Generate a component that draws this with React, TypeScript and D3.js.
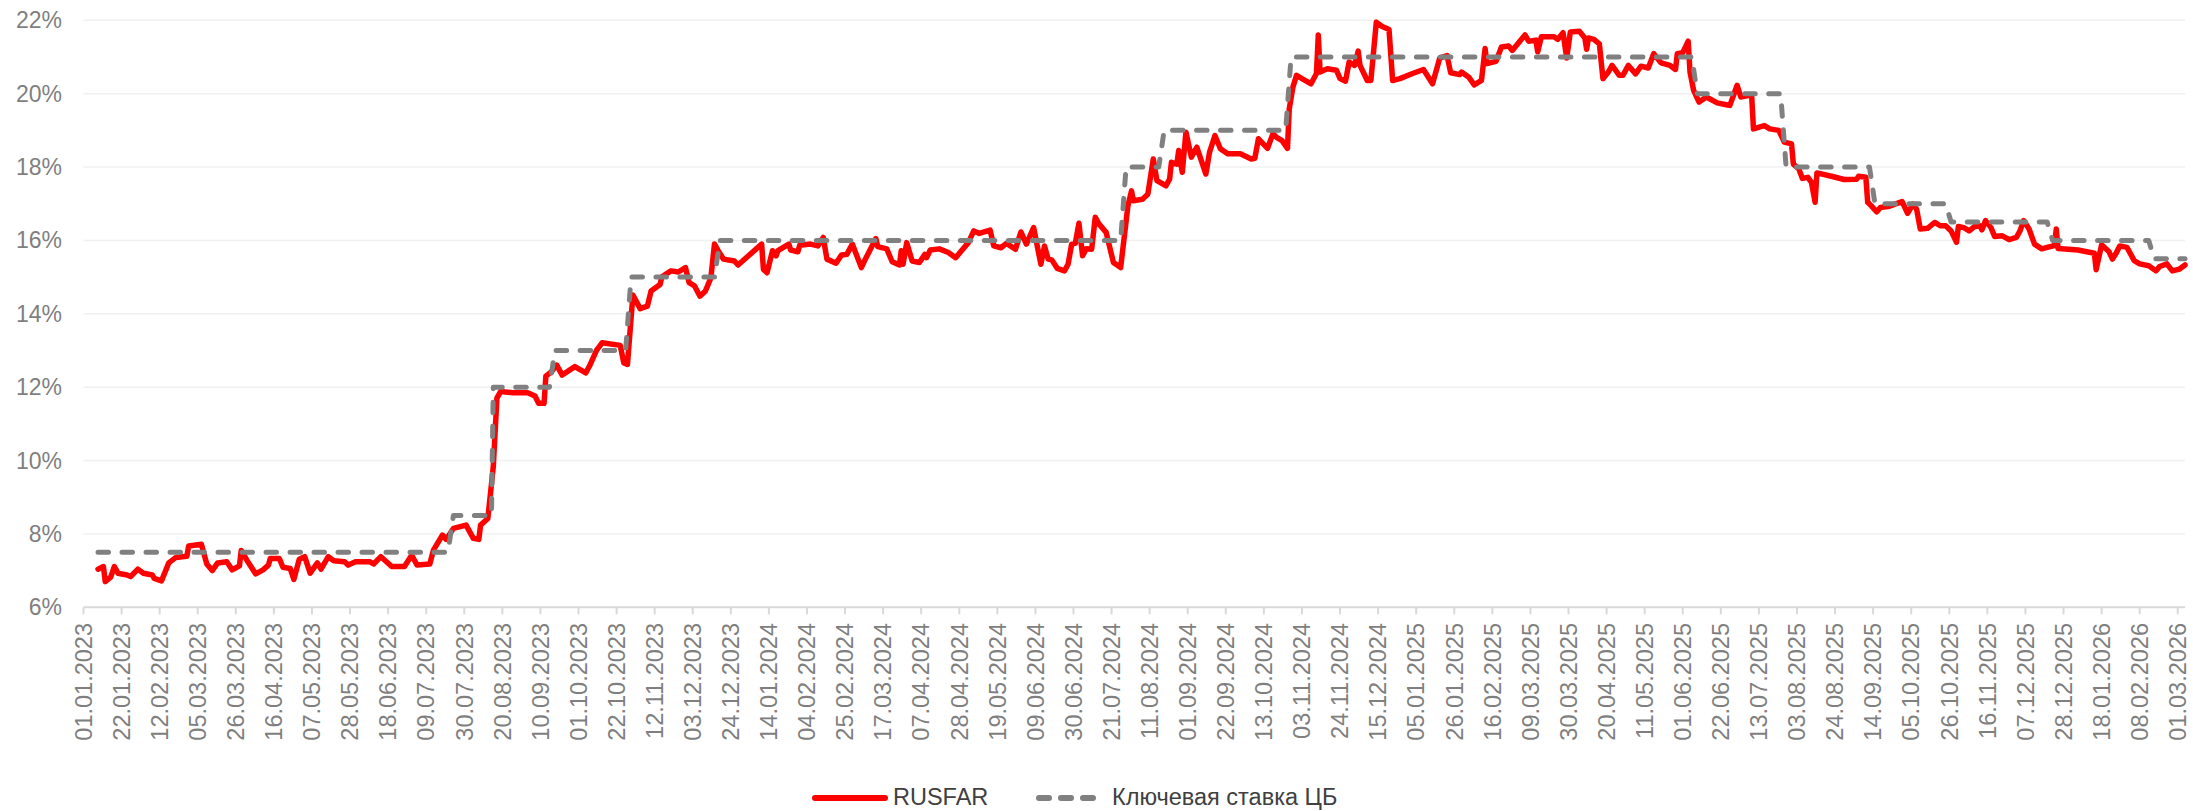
import React from "react";
import * as d3 from "d3";

// RUSFAR, %
const rusfar2023: [string, number][] = [
  ["2023-01-09", 7.04], ["2023-01-12", 7.11], ["2023-01-13", 6.7], ["2023-01-16", 6.82], ["2023-01-18", 7.11],
  ["2023-01-20", 6.93], ["2023-01-25", 6.88], ["2023-01-27", 6.84], ["2023-01-31", 7.04], ["2023-02-03", 6.93],
  ["2023-02-08", 6.88], ["2023-02-09", 6.79], ["2023-02-13", 6.72], ["2023-02-17", 7.21], ["2023-02-21", 7.36],
  ["2023-02-27", 7.39], ["2023-02-28", 7.67], ["2023-03-07", 7.72], ["2023-03-10", 7.18], ["2023-03-13", 7.0],
  ["2023-03-16", 7.21], ["2023-03-21", 7.24], ["2023-03-24", 7.02], ["2023-03-28", 7.13], ["2023-03-29", 7.55],
  ["2023-04-01", 7.29], ["2023-04-06", 6.91], ["2023-04-10", 7.02], ["2023-04-13", 7.15], ["2023-04-14", 7.33],
  ["2023-04-19", 7.33], ["2023-04-21", 7.09], ["2023-04-25", 7.06], ["2023-04-27", 6.76], ["2023-04-30", 7.31],
  ["2023-05-03", 7.38], ["2023-05-06", 6.93], ["2023-05-10", 7.21], ["2023-05-12", 7.04], ["2023-05-16", 7.38],
  ["2023-05-19", 7.27], ["2023-05-25", 7.24], ["2023-05-27", 7.15], ["2023-05-31", 7.24], ["2023-06-08", 7.24],
  ["2023-06-10", 7.18], ["2023-06-14", 7.38], ["2023-06-20", 7.11], ["2023-06-27", 7.11], ["2023-07-01", 7.42],
  ["2023-07-04", 7.15], ["2023-07-11", 7.18], ["2023-07-13", 7.56], ["2023-07-18", 7.97], ["2023-07-20", 7.85],
  ["2023-07-24", 8.15], ["2023-07-31", 8.24], ["2023-08-04", 7.88], ["2023-08-07", 7.85], ["2023-08-08", 8.24],
  ["2023-08-12", 8.42], ["2023-08-15", 9.83], ["2023-08-17", 11.7], ["2023-08-19", 11.88], ["2023-08-26", 11.85],
  ["2023-09-03", 11.85], ["2023-09-07", 11.76], ["2023-09-09", 11.56], ["2023-09-12", 11.56], ["2023-09-13", 12.3],
  ["2023-09-16", 12.42], ["2023-09-19", 12.6], ["2023-09-22", 12.33], ["2023-09-29", 12.56], ["2023-10-05", 12.39],
  ["2023-10-07", 12.57], ["2023-10-11", 13.01], ["2023-10-14", 13.21], ["2023-10-24", 13.14], ["2023-10-26", 12.66],
  ["2023-10-28", 12.62], ["2023-10-31", 14.51], ["2023-11-04", 14.14], ["2023-11-08", 14.21], ["2023-11-10", 14.62],
  ["2023-11-15", 14.8], ["2023-11-16", 15.01], ["2023-11-21", 15.17], ["2023-11-25", 15.14], ["2023-11-29", 15.26],
  ["2023-12-01", 14.85], ["2023-12-04", 14.76], ["2023-12-07", 14.48], ["2023-12-10", 14.62], ["2023-12-13", 14.98],
  ["2023-12-15", 15.9], ["2023-12-17", 15.72], ["2023-12-20", 15.49], ["2023-12-26", 15.44], ["2023-12-28", 15.33],
];

const rusfar2024: [string, number][] = [
  ["2024-01-10", 15.9], ["2024-01-11", 15.21], ["2024-01-13", 15.12], ["2024-01-16", 15.72], ["2024-01-18", 15.58],
  ["2024-01-19", 15.72], ["2024-01-25", 15.9], ["2024-01-26", 15.74], ["2024-01-30", 15.69], ["2024-01-31", 15.87],
  ["2024-02-06", 15.9], ["2024-02-10", 15.85], ["2024-02-13", 16.08], ["2024-02-15", 15.49], ["2024-02-20", 15.38],
  ["2024-02-23", 15.6], ["2024-02-26", 15.62], ["2024-02-29", 15.9], ["2024-03-05", 15.26], ["2024-03-07", 15.47],
  ["2024-03-13", 16.05], ["2024-03-14", 15.83], ["2024-03-19", 15.77], ["2024-03-22", 15.42], ["2024-03-26", 15.33],
  ["2024-03-27", 15.72], ["2024-03-28", 15.35], ["2024-03-30", 15.94], ["2024-04-02", 15.44], ["2024-04-06", 15.4],
  ["2024-04-09", 15.62], ["2024-04-10", 15.53], ["2024-04-12", 15.74], ["2024-04-17", 15.77], ["2024-04-22", 15.67],
  ["2024-04-26", 15.53], ["2024-05-03", 15.94], ["2024-05-06", 16.26], ["2024-05-09", 16.19], ["2024-05-15", 16.28],
  ["2024-05-17", 15.85], ["2024-05-21", 15.8], ["2024-05-24", 15.92], ["2024-05-29", 15.76], ["2024-06-01", 16.23],
  ["2024-06-04", 15.9], ["2024-06-08", 16.35], ["2024-06-12", 15.35], ["2024-06-14", 15.85], ["2024-06-16", 15.49],
  ["2024-06-18", 15.47], ["2024-06-21", 15.24], ["2024-06-25", 15.17], ["2024-06-27", 15.35], ["2024-06-29", 15.9],
  ["2024-07-01", 15.92], ["2024-07-03", 16.47], ["2024-07-05", 15.58], ["2024-07-07", 15.77], ["2024-07-10", 15.76],
  ["2024-07-12", 16.63], ["2024-07-14", 16.45], ["2024-07-18", 16.22], ["2024-07-22", 15.4], ["2024-07-26", 15.26],
  ["2024-07-30", 16.94], ["2024-08-01", 17.35], ["2024-08-02", 17.08], ["2024-08-07", 17.12], ["2024-08-10", 17.26],
  ["2024-08-13", 18.22], ["2024-08-15", 17.63], ["2024-08-20", 17.49], ["2024-08-22", 17.67], ["2024-08-23", 18.13],
  ["2024-08-26", 18.08], ["2024-08-27", 18.45], ["2024-08-29", 17.86], ["2024-08-31", 18.95], ["2024-09-03", 18.27],
  ["2024-09-06", 18.54], ["2024-09-11", 17.81], ["2024-09-13", 18.4], ["2024-09-16", 18.86], ["2024-09-19", 18.5],
  ["2024-09-23", 18.36], ["2024-09-30", 18.36], ["2024-10-06", 18.22], ["2024-10-08", 18.24], ["2024-10-10", 18.77],
  ["2024-10-15", 18.51], ["2024-10-18", 18.91], ["2024-10-20", 18.81], ["2024-10-23", 18.72], ["2024-10-26", 18.51],
  ["2024-10-27", 19.59], ["2024-10-29", 20.18], ["2024-10-31", 20.5], ["2024-11-03", 20.41], ["2024-11-08", 20.27],
  ["2024-11-11", 20.55], ["2024-11-12", 21.6], ["2024-11-13", 20.59], ["2024-11-17", 20.68], ["2024-11-22", 20.64],
  ["2024-11-24", 20.41], ["2024-11-27", 20.34], ["2024-11-29", 20.86], ["2024-12-02", 20.77], ["2024-12-04", 21.16],
  ["2024-12-05", 20.77], ["2024-12-09", 20.36], ["2024-12-11", 20.36], ["2024-12-14", 21.95], ["2024-12-17", 21.84],
  ["2024-12-21", 21.75], ["2024-12-23", 20.36], ["2024-12-27", 20.41],
];

const rusfar2025: [string, number][] = [
  ["2025-01-03", 20.55], ["2025-01-09", 20.66], ["2025-01-14", 20.27], ["2025-01-18", 20.97], ["2025-01-22", 21.04],
  ["2025-01-24", 20.57], ["2025-01-29", 20.52], ["2025-01-30", 20.59], ["2025-02-03", 20.45], ["2025-02-06", 20.24],
  ["2025-02-10", 20.36], ["2025-02-12", 21.23], ["2025-02-13", 20.82], ["2025-02-18", 20.88], ["2025-02-21", 21.27],
  ["2025-02-25", 21.3], ["2025-02-27", 21.18], ["2025-03-06", 21.6], ["2025-03-08", 21.43], ["2025-03-12", 21.46],
  ["2025-03-13", 21.14], ["2025-03-15", 21.55], ["2025-03-22", 21.55], ["2025-03-24", 21.48], ["2025-03-27", 21.66],
  ["2025-03-29", 20.97], ["2025-03-31", 21.68], ["2025-04-05", 21.7], ["2025-04-08", 21.52], ["2025-04-09", 21.21],
  ["2025-04-10", 21.52], ["2025-04-13", 21.48], ["2025-04-16", 21.36], ["2025-04-18", 20.41], ["2025-04-21", 20.59],
  ["2025-04-23", 20.77], ["2025-04-27", 20.5], ["2025-04-29", 20.5], ["2025-05-02", 20.77], ["2025-05-06", 20.54],
  ["2025-05-09", 20.75], ["2025-05-13", 20.7], ["2025-05-16", 21.09], ["2025-05-20", 20.84], ["2025-05-25", 20.77],
  ["2025-05-28", 20.66], ["2025-05-29", 21.09], ["2025-06-01", 21.12], ["2025-06-04", 21.43], ["2025-06-05", 20.59],
  ["2025-06-07", 20.09], ["2025-06-10", 19.77], ["2025-06-14", 19.91], ["2025-06-20", 19.75], ["2025-06-25", 19.7],
  ["2025-06-27", 19.68], ["2025-07-01", 20.23], ["2025-07-03", 19.91], ["2025-07-07", 19.95], ["2025-07-09", 19.95],
  ["2025-07-10", 19.04], ["2025-07-16", 19.13], ["2025-07-19", 19.04], ["2025-07-24", 19.0], ["2025-07-27", 18.68],
  ["2025-07-31", 18.63], ["2025-08-01", 18.08], ["2025-08-04", 17.95], ["2025-08-06", 17.69], ["2025-08-09", 17.72],
  ["2025-08-11", 17.58], ["2025-08-13", 17.04], ["2025-08-14", 17.84], ["2025-08-22", 17.75], ["2025-08-29", 17.66],
  ["2025-09-05", 17.67], ["2025-09-06", 17.75], ["2025-09-10", 17.72], ["2025-09-11", 17.04], ["2025-09-13", 16.94],
  ["2025-09-16", 16.78], ["2025-09-18", 16.9], ["2025-09-23", 16.93], ["2025-09-26", 16.99], ["2025-09-30", 17.06],
  ["2025-10-03", 16.74], ["2025-10-06", 16.99], ["2025-10-08", 16.85], ["2025-10-10", 16.31], ["2025-10-14", 16.33],
  ["2025-10-18", 16.49], ["2025-10-21", 16.4], ["2025-10-24", 16.4], ["2025-10-27", 16.26], ["2025-10-30", 15.95],
  ["2025-10-31", 16.38], ["2025-11-03", 16.35], ["2025-11-06", 16.26], ["2025-11-09", 16.38], ["2025-11-12", 16.4],
  ["2025-11-13", 16.29], ["2025-11-15", 16.54], ["2025-11-18", 16.35], ["2025-11-20", 16.11], ["2025-11-24", 16.13],
  ["2025-11-28", 16.02], ["2025-12-02", 16.08], ["2025-12-04", 16.26], ["2025-12-06", 16.54], ["2025-12-09", 16.31],
  ["2025-12-12", 15.9], ["2025-12-16", 15.77], ["2025-12-19", 15.81], ["2025-12-23", 15.86], ["2025-12-24", 16.31],
  ["2025-12-25", 15.78],
];

const rusfar2026: [string, number][] = [
  ["2026-01-05", 15.74], ["2026-01-14", 15.65], ["2026-01-15", 15.2], ["2026-01-18", 15.88], ["2026-01-22", 15.7],
  ["2026-01-24", 15.49], ["2026-01-26", 15.65], ["2026-01-28", 15.85], ["2026-02-01", 15.81], ["2026-02-05", 15.45],
  ["2026-02-08", 15.36], ["2026-02-13", 15.31], ["2026-02-17", 15.17], ["2026-02-19", 15.29], ["2026-02-23", 15.36],
  ["2026-02-26", 15.17], ["2026-03-02", 15.22], ["2026-03-05", 15.33],
];

// Ключевая ставка ЦБ, % (first and last day of each level)
const keyRate: [string, number][] = [
  ["2023-01-09", 7.5], ["2023-07-21", 7.5], ["2023-07-24", 8.5], ["2023-08-14", 8.5], ["2023-08-15", 12],
  ["2023-09-15", 12], ["2023-09-18", 13], ["2023-10-27", 13], ["2023-10-30", 15], ["2023-12-15", 15],
  ["2023-12-18", 16], ["2024-07-26", 16], ["2024-07-29", 18], ["2024-08-16", 18], ["2024-08-19", 19],
  ["2024-10-25", 19], ["2024-10-28", 21], ["2025-06-06", 21], ["2025-06-09", 20], ["2025-07-25", 20],
  ["2025-07-28", 18], ["2025-09-12", 18], ["2025-09-15", 17], ["2025-10-24", 17], ["2025-10-27", 16.5],
  ["2025-12-19", 16.5], ["2025-12-22", 16], ["2026-02-13", 16], ["2026-02-16", 15.5], ["2026-03-05", 15.5],
];

const yTicks = [6, 8, 10, 12, 14, 16, 18, 20, 22];

const xTickLabels = [
  "01.01.2023", "22.01.2023", "12.02.2023", "05.03.2023", "26.03.2023", "16.04.2023", "07.05.2023",
  "28.05.2023", "18.06.2023", "09.07.2023", "30.07.2023", "20.08.2023", "10.09.2023", "01.10.2023",
  "22.10.2023", "12.11.2023", "03.12.2023", "24.12.2023", "14.01.2024", "04.02.2024", "25.02.2024",
  "17.03.2024", "07.04.2024", "28.04.2024", "19.05.2024", "09.06.2024", "30.06.2024", "21.07.2024",
  "11.08.2024", "01.09.2024", "22.09.2024", "13.10.2024", "03.11.2024", "24.11.2024", "15.12.2024",
  "05.01.2025", "26.01.2025", "16.02.2025", "09.03.2025", "30.03.2025", "20.04.2025", "11.05.2025",
  "01.06.2025", "22.06.2025", "13.07.2025", "03.08.2025", "24.08.2025", "14.09.2025", "05.10.2025",
  "26.10.2025", "16.11.2025", "07.12.2025", "28.12.2025", "18.01.2026", "08.02.2026", "01.03.2026",
];

const axisStart = "2023-01-01";
const axisEnd = "2026-03-05";

const font = "'Liberation Sans', Arial, sans-serif";

export default function App() {
  const width = 2193;
  const height = 811;
  const left = 83.5;
  const right = 2185;
  const top = 20.3;
  const bottom = 607.3;

  const parseIso = d3.timeParse("%Y-%m-%d");
  const parseRu = d3.timeParse("%d.%m.%Y");

  const x = d3
    .scaleTime()
    .domain([parseIso(axisStart)!, parseIso(axisEnd)!])
    .range([left, right]);
  const y = d3.scaleLinear().domain([6, 22]).range([bottom, top]);

  const line = d3
    .line<[string, number]>()
    .x((d) => x(parseIso(d[0])!))
    .y((d) => y(d[1]));

  const rusfar = [...rusfar2023, ...rusfar2024, ...rusfar2025, ...rusfar2026];

  return (
    <svg
      width={width}
      height={height}
      style={{ position: "absolute", left: 0, top: 0, background: "#fff" }}
      fontFamily={font}
    >
      {/* gridlines */}
      {yTicks.map((t) => (
        <line
          key={t}
          x1={left}
          x2={right}
          y1={y(t)}
          y2={y(t)}
          stroke={t === 6 ? "#d9d9d9" : "#f0f0f0"}
          strokeWidth={t === 6 ? 2 : 1.5}
        />
      ))}
      {yTicks.map((t) => (
        <text
          key={"yl" + t}
          x={62}
          y={y(t)}
          dy="0.35em"
          textAnchor="end"
          fontSize={23}
          fill="#7f7f7f"
        >
          {t}%
        </text>
      ))}

      {/* x axis ticks and labels */}
      {xTickLabels.map((lbl) => {
        const xx = x(parseRu(lbl)!);
        return (
          <g key={lbl}>
            <line x1={xx} x2={xx} y1={bottom} y2={bottom + 7} stroke="#d9d9d9" strokeWidth={2} />
            <text
              transform={`translate(${xx},623) rotate(-90)`}
              textAnchor="end"
              dy="0.35em"
              fontSize={23.5}
              fill="#7f7f7f"
            >
              {lbl}
            </text>
          </g>
        );
      })}

      {/* series */}
      <path
        d={line(rusfar)!}
        fill="none"
        stroke="#ff0000"
        strokeWidth={5.5}
        strokeLinejoin="round"
        strokeLinecap="round"
      />
      <path
        d={line(keyRate)!}
        fill="none"
        stroke="#808080"
        strokeWidth={5}
        strokeDasharray="10.5 13.5"
        strokeLinecap="round"
        strokeLinejoin="round"
      />

      {/* legend */}
      <line x1={815} x2={885} y1={798} y2={798} stroke="#ff0000" strokeWidth={6} strokeLinecap="round" />
      <text x={893} y={805} fontSize={23.5} fill="#404040">
        RUSFAR
      </text>
      <line
        x1={1039}
        x2={1100}
        y1={798}
        y2={798}
        stroke="#808080"
        strokeWidth={6}
        strokeDasharray="10 12"
        strokeLinecap="round"
      />
      <text x={1112} y={805} fontSize={23.5} fill="#404040">
        Ключевая ставка ЦБ
      </text>
    </svg>
  );
}
